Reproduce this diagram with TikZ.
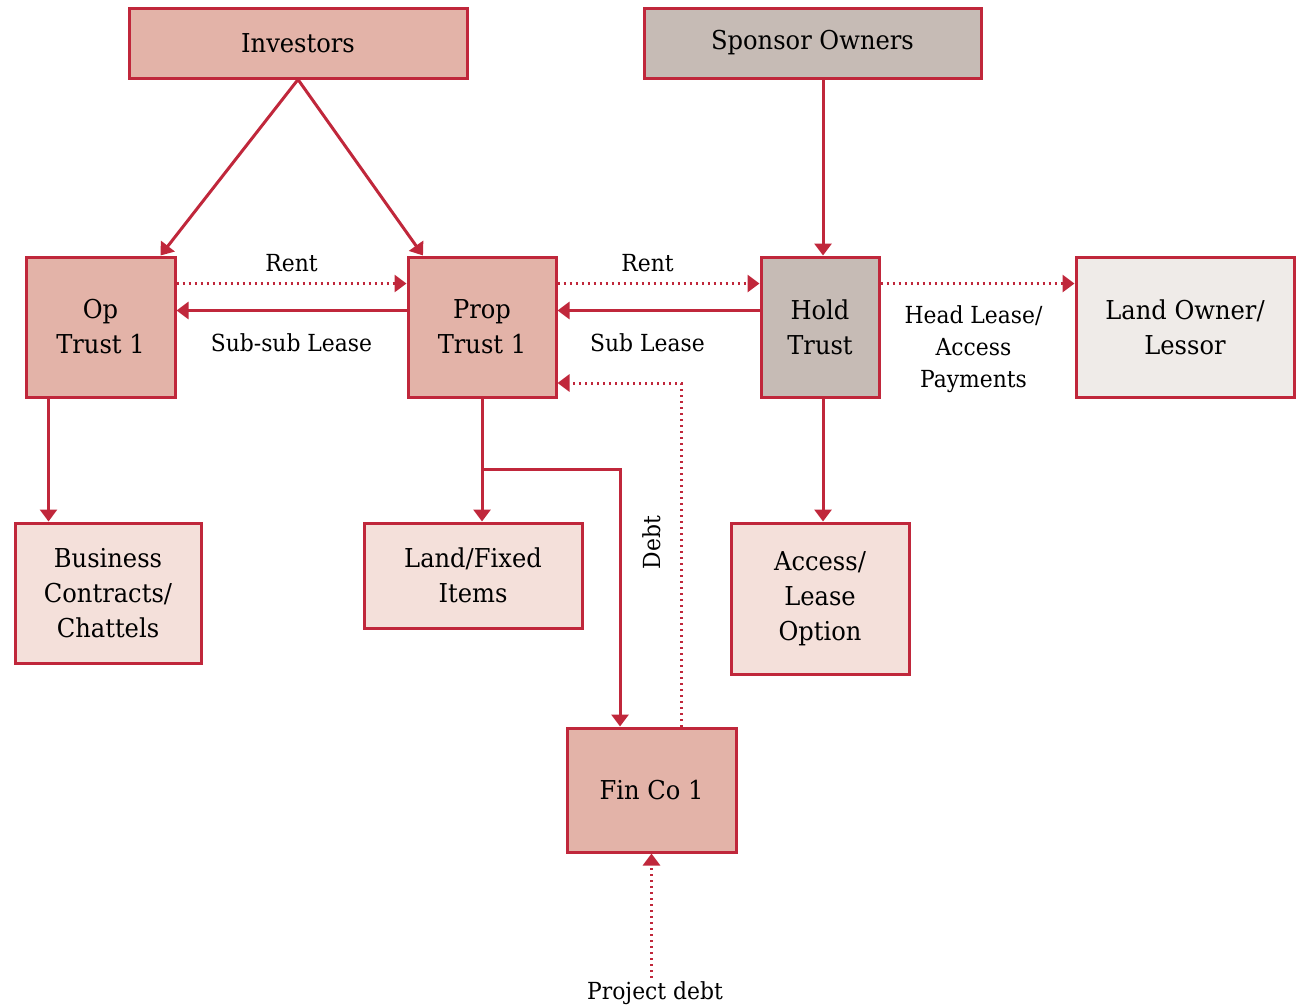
\documentclass[tikz,border=0pt]{standalone}
\usepackage{fontspec}
\setmainfont{DejaVu Serif}[FakeStretch=0.93]
\usepackage{tikz}
\usetikzlibrary{arrows.meta,positioning,calc}

\definecolor{edgered}{RGB}{192,39,59}
\definecolor{salmon}{RGB}{227,179,168}
\definecolor{greyfill}{RGB}{198,187,181}
\definecolor{palepink}{RGB}{244,224,218}
\definecolor{paleground}{RGB}{239,235,232}

\begin{document}
\begin{tikzpicture}[x=1pt, y=-1pt,
       box/.style={rectangle, draw=edgered, line width=3pt, align=center, inner sep=0pt,
                   font=\fontsize{26}{35}\selectfont},
       link/.style={edgered, line width=3pt, -{Triangle[length=12pt,width=17pt]}},
       flow/.style={link, dash pattern=on 2pt off 4pt},
       lbl/.style={black, font=\fontsize{23.5}{32}\selectfont, align=center}]
   \useasboundingbox (0,0) rectangle (1297,1005);
   % top row
   \node[box, fill=salmon,   minimum width=338, minimum height=70]  (inv)  at (298,43)    {Investors};
   \node[box, fill=greyfill, minimum width=337, minimum height=70]  (spon) at (812.5,43)  {Sponsor Owners};
   % trusts
   \node[box, fill=salmon,   minimum width=149, minimum height=140] (op)   at (100.5,327) {Op\\Trust 1};
   \node[box, fill=salmon,   minimum width=148, minimum height=140] (prop) at (482,327)   {Prop\\Trust 1};
   \node[box, fill=greyfill, minimum width=118, minimum height=140] (hold) at (820,327)   {Hold\\Trust};
   \node[box, fill=paleground, minimum width=218, minimum height=140] (land) at (1185,327) {Land Owner/\\Lessor};
   % assets
   \node[box, fill=palepink, minimum width=186, minimum height=140] (bus)    at (108,593)   {Business\\Contracts/\\Chattels};
   \node[box, fill=palepink, minimum width=218, minimum height=105] (fixed)  at (473,575.5) {Land/Fixed\\Items};
   \node[box, fill=palepink, minimum width=178, minimum height=151] (access) at (820,598.5) {Access/\\Lease\\Option};
   \node[box, fill=salmon,   minimum width=169, minimum height=124] (fin)    at (651.5,790) {Fin Co 1};
   \node[lbl] (pd) at (655,993) {Project debt};

   % ownership
   \draw[link] (inv.south) -- ([xshift=60pt]op.north);
   \draw[link] (inv.south) -- ([xshift=-59pt]prop.north);
   \draw[link] ([xshift=3pt]spon.south -| hold.north) -- ([xshift=3pt]hold.north);

   % leases and rent
   \draw[flow] ([yshift=-28pt]op.north east) -- ([yshift=-28pt]prop.north west)
        node[lbl, midway, above=7pt] {Rent};
   \draw[link] ([yshift=-55pt]prop.north west) -- ([yshift=-55pt]op.north east)
        node[lbl, midway, below=18pt] {Sub-sub Lease};
   \draw[flow] ([yshift=-28pt]prop.north east) -- ([yshift=-28pt]hold.north west)
        node[lbl, midway, above=7pt, xshift=-11pt] {Rent};
   \draw[link] ([yshift=-55pt]hold.north west) -- ([yshift=-55pt]prop.north east)
        node[lbl, midway, below=18pt, xshift=-11pt] {Sub Lease};
   \draw[flow] ([yshift=-28pt]hold.north east) -- ([yshift=-28pt]land.north west)
        node[lbl, midway, below=17pt, xshift=-4pt] {Head Lease/\\Access\\Payments};

   % holdings
   \draw[link] ([xshift=-52pt]op.south) coordinate (o1) -- (o1 |- bus.north);
   \draw[link] (prop.south) -- (prop.south |- fixed.north);
   \draw[link] ([yshift=-71pt]prop.south) -| ([xshift=-31.5pt]fin.north);
   \draw[link] ([xshift=3pt]hold.south) -- ([xshift=3pt]access.north);

   % debt
   \draw[flow] ([xshift=29.5pt]fin.north) |- ([yshift=-56pt]prop.east)
        node[lbl, pos=0.268, sloped, above=15pt] {Debt};
   \draw[flow] (pd.north -| fin.south) -- (fin.south);
\end{tikzpicture}
\end{document}
